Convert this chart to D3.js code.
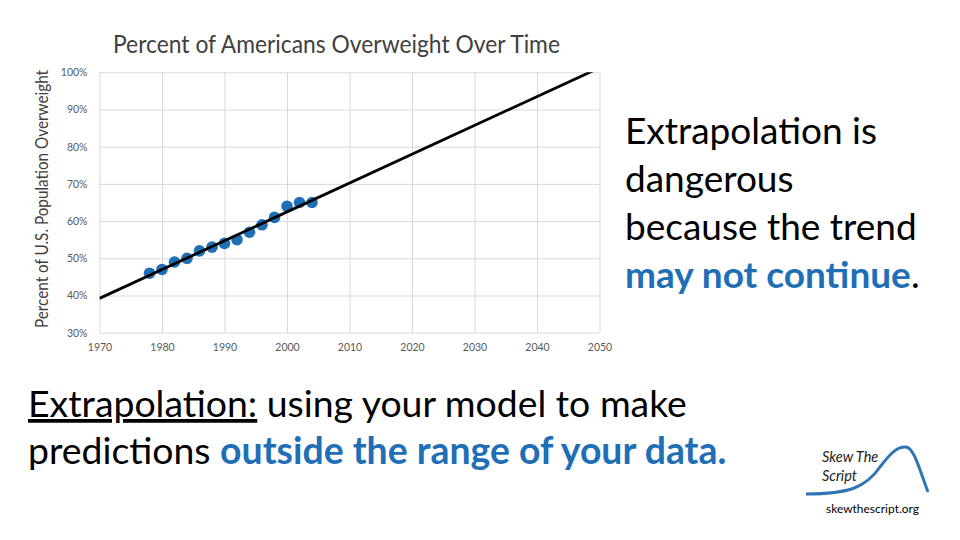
<!DOCTYPE html>
<html><head><meta charset="utf-8">
<script src="https://cdn.jsdelivr.net/npm/d3@7"></script>
<style>
body{margin:0;background:#fff}
svg{display:block}
text{font-family:Lato,"Open Sans",sans-serif}
</style>
</head><body>
<svg id="chart" width="960" height="540"></svg>
<script>
// ---- data ----
const years = [1978,1980,1982,1984,1986,1988,1990,1992,1994,1996,1998,2000,2002,2004];
const percents = [46,47,49,50,52,53,54,55,57,59,61,64,65,65];
const xTicks = [1970,1980,1990,2000,2010,2020,2030,2040,2050];
const yTicks = [30,40,50,60,70,80,90,100];
const chartTitle = "Percent of Americans Overweight Over Time";
const yAxisTitle = "Percent of U.S. Population Overweight";

const blue = "#1f6fb6";
const svg = d3.select("#chart");
const plot = {left:99.5, right:599.5, top:72.3, bottom:332.7};

const x = d3.scaleLinear().domain([1970,2050]).range([plot.left, plot.right]);
const y = d3.scaleLinear().domain([30,100]).range([plot.bottom, plot.top]);

function fit(sel, target){
  const w = sel.node().getComputedTextLength();
  const fs = parseFloat(sel.attr("font-size"));
  const nfs = fs*target/w;
  sel.attr("font-size", nfs);
  return nfs;
}

// gridlines
svg.append("g").attr("transform",`translate(${plot.left},0)`)
  .call(d3.axisLeft(y).tickValues(yTicks).tickSize(-(plot.right-plot.left)).tickFormat(""))
  .call(g=>g.select(".domain").remove())
  .call(g=>g.selectAll("line").attr("stroke","#d9d9d9").attr("stroke-width",1));
svg.append("g").attr("transform",`translate(0,${plot.bottom})`)
  .call(d3.axisBottom(x).tickValues(xTicks).tickSize(-(plot.bottom-plot.top)).tickFormat(""))
  .call(g=>g.select(".domain").remove())
  .call(g=>g.selectAll("line").attr("stroke","#d9d9d9").attr("stroke-width",1));

// axis labels
svg.append("g").attr("transform",`translate(${plot.left},0)`)
  .call(d3.axisLeft(y).tickValues(yTicks).tickSize(0).tickPadding(12).tickFormat(d=>d+"%"))
  .call(g=>g.select(".domain").remove())
  .call(g=>g.selectAll("text").attr("font-family","Lato, sans-serif").attr("font-size",10.5).attr("fill","#595959"));
svg.append("g").attr("transform",`translate(0,${plot.bottom})`)
  .call(d3.axisBottom(x).tickValues(xTicks).tickSize(0).tickPadding(11).tickFormat(d3.format("d")))
  .call(g=>g.select(".domain").remove())
  .call(g=>g.selectAll("text").attr("font-family","Lato, sans-serif").attr("font-size",10.5).attr("fill","#595959"));

// clip
svg.append("clipPath").attr("id","clip").append("rect")
  .attr("x",plot.left).attr("y",plot.top).attr("width",plot.right-plot.left).attr("height",plot.bottom-plot.top);

// points
const pts = years.map((yr,i)=>({yr, v:percents[i]}));
svg.append("g").selectAll("circle").data(pts).join("circle")
  .attr("cx",d=>x(d.yr)).attr("cy",d=>y(d.v)).attr("r",5.8).attr("fill",blue);

// linear trendline (least squares)
const mx = d3.mean(years), my = d3.mean(percents);
const slope = d3.sum(pts,d=>(d.yr-mx)*(d.v-my))/d3.sum(pts,d=>(d.yr-mx)**2);
const icpt = my - slope*mx;
const trend = [1970,2050].map(yr=>({yr, v:icpt+slope*yr}));
svg.append("path").datum(trend).attr("clip-path","url(#clip)")
  .attr("d", d3.line().x(d=>x(d.yr)).y(d=>y(d.v)))
  .attr("stroke","#000").attr("stroke-width",2.8).attr("fill","none");

// chart title (slightly taller, as the original narrower face)
const tg = svg.append("g").attr("transform","translate(113,53) scale(1,1.12)");
const t = tg.append("text").attr("x",0).attr("y",0).attr("font-size",20).attr("fill","#404040").text(chartTitle);
fit(t, 447);

// y axis title
const yt = svg.append("text").attr("transform","translate(48,199) rotate(-90) scale(1,1.1)")
  .attr("text-anchor","middle").attr("font-size",16).attr("fill","#404040").text(yAxisTitle);
fit(yt, 258);

// right text block
const rightLines = [
  [{t:"Extrapolation is"}],
  [{t:"dangerous"}],
  [{t:"because the trend"}],
  [{t:"may not continue", b:true},{t:"."}]
];
const rl = svg.append("g");
let rs = null;
rightLines.forEach((ln,i)=>{
  const tx = rl.append("text").attr("x",625).attr("y",144+i*48).attr("font-size",32).attr("fill","#000");
  ln.forEach(p=>tx.append("tspan").text(p.t).attr("font-weight",p.b?"bold":null).attr("fill",p.b?blue:null));
  if(i===0) rs = fit(tx, 252); else tx.attr("font-size", rs);
});

// bottom text block
const b1 = svg.append("text").attr("x",28).attr("y",417).attr("font-size",32).attr("fill","#000");
b1.append("tspan").text("Extrapolation:").style("text-decoration","underline");
b1.append("tspan").text(" using your model to make");
const bs = fit(b1, 659);
const b2 = svg.append("text").attr("x",28).attr("y",464).attr("font-size",bs).attr("fill","#000");
b2.append("tspan").text("predictions ");
b2.append("tspan").text("outside the range of your data.").attr("font-weight","bold").attr("fill",blue);

// logo
svg.append("path")
  .attr("d","M806,494 C850,494 866,487 880,467 C892,451 899,446 906,447 C914,448 919,468 928,492")
  .attr("fill","none").attr("stroke","#2e75b6").attr("stroke-width",3);
svg.append("text").attr("x",822).attr("y",462).attr("font-size",14.5).attr("font-style","italic").attr("fill","#222").text("Skew The");
svg.append("text").attr("x",822).attr("y",481).attr("font-size",14.5).attr("font-style","italic").attr("fill","#222").text("Script");
const url = svg.append("text").attr("x",826).attr("y",513).attr("font-size",11).attr("fill","#000").text("skewthescript.org");
fit(url, 93);
</script>
</body></html>
